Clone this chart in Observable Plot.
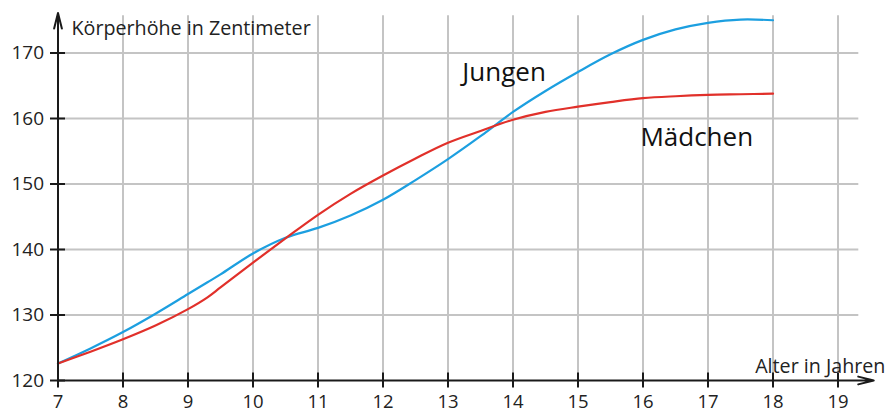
<!DOCTYPE html>
<html>
<head>
<meta charset="utf-8">
<script src="https://cdn.jsdelivr.net/npm/d3@7"></script>
<script src="https://cdn.jsdelivr.net/npm/@observablehq/plot@0.6"></script>
<style>
  html, body { margin: 0; padding: 0; background: #fff; }
</style>
</head>
<body>
<div id="chart"></div>
<script>
// ---- data ----
const ages    = [7, 7.5, 8, 8.5, 9, 9.3, 9.5, 10, 10.5, 11, 11.5, 12, 12.5, 13, 13.5, 14, 14.5, 15, 15.5, 16, 16.5, 17, 17.5, 18];
const jungen  = [122.6, 124.9, 127.4, 130.2, 133.2, 135.0, 136.2, 139.4, 141.8, 143.3, 145.2, 147.6, 150.6, 153.8, 157.3, 161.0, 164.2, 167.1, 169.8, 172.0, 173.6, 174.6, 175.1, 175.0];
const maedchen= [122.6, 124.4, 126.3, 128.4, 130.9, 132.7, 134.2, 138.0, 141.7, 145.3, 148.5, 151.3, 153.9, 156.3, 158.1, 159.8, 161.0, 161.8, 162.5, 163.1, 163.4, 163.6, 163.7, 163.8];
const xTicks  = [7, 8, 9, 10, 11, 12, 13, 14, 15, 16, 17, 18, 19];
const yTicks  = [120, 130, 140, 150, 160, 170];
const seriesNames = ["Jungen", "Mädchen"];
const seriesColors = ["#1c9fe0", "#e1302a"];
const labelX = [13.22, 15.96];
const labelY = [165.8, 155.8];
const yTitle = "Körperhöhe in Zentimeter";
const xTitle = "Alter in Jahren";
const xDomain = [7, 19];
const yDomain = [120, 170];
const gridTop = 175.7;     // top of vertical grid lines
const gridRight = 19.32;   // right end of horizontal grid lines
const xAxisEnd = 19.55;
const yAxisEnd = 176.1;

// ---- build tables ----
const rows = [];
ages.forEach((a, i) => {
  rows.push({age: a, h: jungen[i], s: seriesNames[0]});
  rows.push({age: a, h: maedchen[i], s: seriesNames[1]});
});
const labels = seriesNames.map((n, i) => ({name: n, x: labelX[i], y: labelY[i]}));

const chart = Plot.plot({
  width: 887,
  height: 415,
  marginLeft: 57.5,
  marginRight: 49.5,
  marginTop: 52.5,
  marginBottom: 35,
  style: {fontFamily: "'Open Sans', sans-serif", fontSize: "19px", color: "#222", background: "#fff"},
  x: {domain: xDomain},
  y: {domain: yDomain},
  color: {domain: seriesNames, range: seriesColors},
  marks: [
    // grid
    Plot.ruleX(xTicks, {x: d => d, y1: yDomain[0], y2: gridTop, stroke: "#c4c4c4", strokeWidth: 2}),
    Plot.ruleY(yTicks.slice(1), {y: d => d, x1: xDomain[0], x2: gridRight, stroke: "#c4c4c4", strokeWidth: 2}),
    // series
    Plot.line(rows, {x: "age", y: "h", z: "s", stroke: "s", strokeWidth: 2.2, curve: "catmull-rom"}),
    // axes lines with arrows
    Plot.arrow([0], {x1: xDomain[0], y1: yDomain[0], x2: xAxisEnd, y2: yDomain[0], stroke: "#1a1a1a", strokeWidth: 2, headLength: 12, headAngle: 28}),
    Plot.arrow([0], {x1: xDomain[0], y1: yDomain[0], x2: xDomain[0], y2: yAxisEnd, stroke: "#1a1a1a", strokeWidth: 2, headLength: 12, headAngle: 28}),
    // tick marks crossing the axes
    Plot.ruleX(xTicks, {x: d => d, y1: yDomain[0], y2: yDomain[0], insetTop: -7.5, insetBottom: -7.5, stroke: "#1a1a1a", strokeWidth: 2}),
    Plot.ruleY(yTicks, {y: d => d, x1: xDomain[0], x2: xDomain[0], insetLeft: -7.5, insetRight: -7.5, stroke: "#1a1a1a", strokeWidth: 2}),
    // tick labels
    Plot.axisX({ticks: xTicks, tickSize: 0, tickPadding: 14.5, fontSize: 18.5, label: null}),
    Plot.axisY({ticks: yTicks, tickSize: 0, tickPadding: 14, fontSize: 19, label: null}),
    // titles
    Plot.text([yTitle], {x: xDomain[0], y: 172.7, text: d => d, dx: 13.5, textAnchor: "start", lineAnchor: "bottom", fontSize: 19.7, fill: "#222"}),
    Plot.text([xTitle], {x: 19.73, y: 121.07, text: d => d, textAnchor: "end", lineAnchor: "bottom", fontSize: 19.7, fill: "#222"}),
    // series labels
    Plot.text(labels, {x: "x", y: "y", text: "name", textAnchor: "start", lineAnchor: "bottom", fontSize: 26, fill: "#111"})
  ]
});
document.getElementById("chart").appendChild(chart);
</script>
</body>
</html>
